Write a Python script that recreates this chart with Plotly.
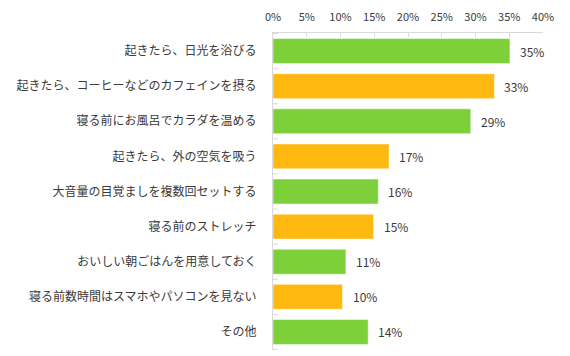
import plotly.graph_objects as go

categories = [
    "起きたら、日光を浴びる",
    "起きたら、コーヒーなどのカフェインを摂る",
    "寝る前にお風呂でカラダを温める",
    "起きたら、外の空気を吸う",
    "大音量の目覚ましを複数回セットする",
    "寝る前のストレッチ",
    "おいしい朝ごはんを用意しておく",
    "寝る前数時間はスマホやパソコンを見ない",
    "その他",
]
values = [35.1, 32.8, 29.3, 17.2, 15.6, 14.9, 10.8, 10.3, 14.1]
value_labels = ["35%", "33%", "29%", "17%", "16%", "15%", "11%", "10%", "14%"]
tick_vals = [0, 5, 10, 15, 20, 25, 30, 35, 40]
tick_text = ["0%", "5%", "10%", "15%", "20%", "25%", "30%", "35%", "40%"]

GREEN = "#7ED03B"
ORANGE = "#FFB80F"
colors = [GREEN if i % 2 == 0 else ORANGE for i in range(len(categories))]
FONT = "Noto Sans CJK JP"
TXT = "#3A3A3A"

fig = go.Figure()
fig.add_trace(go.Bar(
    y=categories, x=values, orientation="h",
    marker=dict(color=colors, line=dict(color="rgba(255,255,255,0.5)", width=1)),
    hoverinfo="skip",
))

for c, v, t in zip(categories, values, value_labels):
    fig.add_annotation(x=v, y=c, text=t, showarrow=False, xanchor="left",
                       xshift=8, font=dict(family=FONT, size=12, color=TXT))

# the page body has an 8px default margin, so the figure is shrunk by 8px
fig.update_layout(
    width=562, height=348,
    margin=dict(l=265, r=27, t=25, b=6),
    paper_bgcolor="white", plot_bgcolor="white",
    bargap=0.29, showlegend=False,
    font=dict(family=FONT, size=12, color=TXT),
    xaxis=dict(
        side="top", range=[0, 40], tickvals=tick_vals, ticktext=tick_text,
        showgrid=False, zeroline=False, showline=True, linecolor="#D9D9D9",
        linewidth=1, ticks="inside", ticklen=4, tickcolor="#D9D9D9",
        tickfont=dict(family=FONT, size=11, color=TXT), fixedrange=True,
        automargin=False, ticklabelstandoff=7,
    ),
    yaxis=dict(
        autorange="reversed", showgrid=False, zeroline=False, showline=True,
        linecolor="#D9D9D9", linewidth=1, ticks="", ticklabelstandoff=13,
        tickfont=dict(family=FONT, size=12, color=TXT), fixedrange=True,
        automargin=False,
    ),
)

# small category separator ticks on the vertical axis
for i in range(len(categories) + 1):
    fig.add_shape(type="line", xref="paper", yref="y",
                  x0=0, x1=0.018, y0=i - 0.5, y1=i - 0.5,
                  line=dict(color="#D9D9D9", width=1))

fig.write_html("out.html")
